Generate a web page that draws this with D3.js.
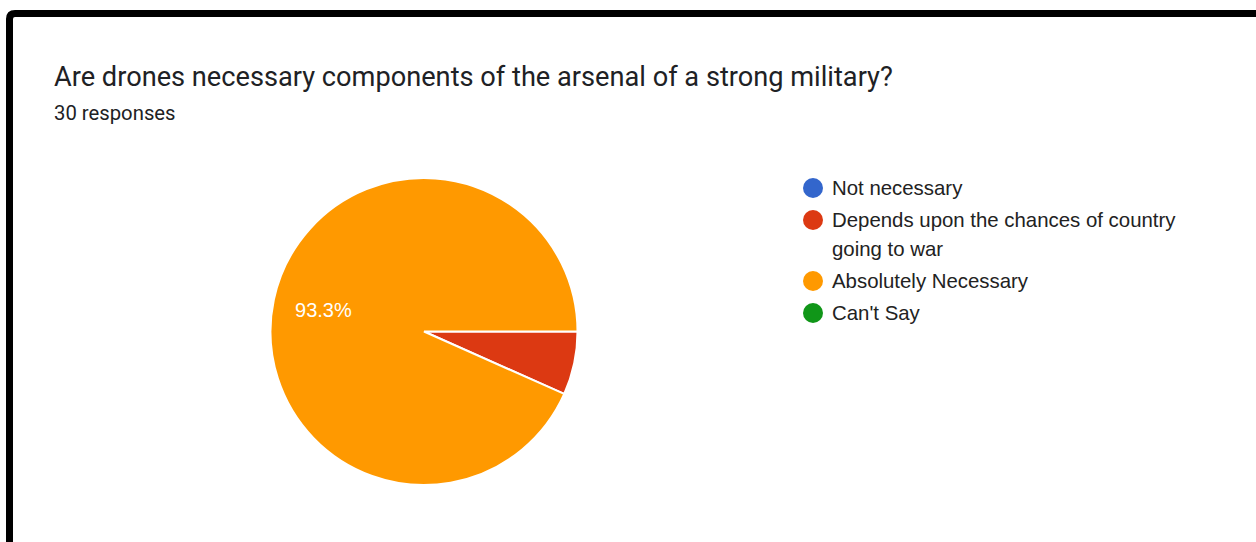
<!DOCTYPE html>
<html><head><meta charset="utf-8">
<script src="https://cdn.jsdelivr.net/npm/d3@7"></script>
<style>
html,body{margin:0;padding:0;background:#fff;}
svg{display:block;}
</style></head>
<body>
<script>
const title = "Are drones necessary components of the arsenal of a strong military?";
const subtitle = "30 responses";
const categories = ["Not necessary", "Depends upon the chances of country going to war", "Absolutely Necessary", "Can't Say"];
const legendLines = [["Not necessary"], ["Depends upon the chances of country", "going to war"], ["Absolutely Necessary"], ["Can't Say"]];
const counts = [0, 2, 28, 0];
const colors = ["#3366cc", "#dc3912", "#ff9900", "#109618"];

const W = 1256, H = 542;
const svg = d3.select("body").append("svg").attr("width", W).attr("height", H);

// frame
svg.append("path")
  .attr("d", "M 9.5 " + (H + 20) + " L 9.5 19 Q 9.5 13.5 15 13.5 L " + (W + 20) + " 13.5")
  .attr("fill", "none").attr("stroke", "#000").attr("stroke-width", 7);

svg.append("text").attr("x", 54).attr("y", 86)
  .attr("font-family", "Roboto").attr("font-size", 27.2).attr("fill", "#202124")
  .text(title);
svg.append("text").attr("x", 54).attr("y", 119.5)
  .attr("font-family", "Roboto").attr("font-size", 20.3).attr("fill", "#202124")
  .text(subtitle);

const cx = 424, cy = 331.5, r = 153.5;
const total = d3.sum(counts);
const pie = d3.pie().sort(null).value(d => d)
  .startAngle(Math.PI / 2).endAngle(Math.PI / 2 + 2 * Math.PI);
const arcs = pie(counts);
const arc = d3.arc().innerRadius(0).outerRadius(r);
const labelArc = d3.arc().innerRadius(r * 0.67).outerRadius(r * 0.67);

const g = svg.append("g").attr("transform", `translate(${cx},${cy})`);
g.selectAll("path.slice").data(arcs.filter(a => a.value > 0)).enter().append("path")
  .attr("class", "slice")
  .attr("d", arc)
  .attr("fill", d => colors[d.index])
  .attr("stroke", "#fff").attr("stroke-width", 2);

g.selectAll("text.lbl").data(arcs.filter(a => a.value / total > 0.1)).enter().append("text")
  .attr("class", "lbl")
  .attr("transform", d => `translate(${labelArc.centroid(d)})`)
  .attr("text-anchor", "middle").attr("dy", "0.35em")
  .attr("font-family", "Liberation Sans, Arial").attr("font-size", 20).attr("fill", "#fff")
  .text(d => (d.value / total * 100).toFixed(1) + "%");

// legend
const legendY = d3.scaleOrdinal().domain(categories).range([188, 220, 281, 313]);
const lg = svg.append("g");
categories.forEach((c, i) => {
  const y = legendY(c);
  lg.append("circle").attr("cx", 813).attr("cy", y).attr("r", 10).attr("fill", colors[i]);
  legendLines[i].forEach((line, j) => {
    lg.append("text").attr("x", 832).attr("y", y + j * 29).attr("dy", "0.35em")
      .attr("font-family", "Liberation Sans, Arial").attr("font-size", 20.4).attr("fill", "#222")
      .text(line);
  });
});
</script>
</body></html>
